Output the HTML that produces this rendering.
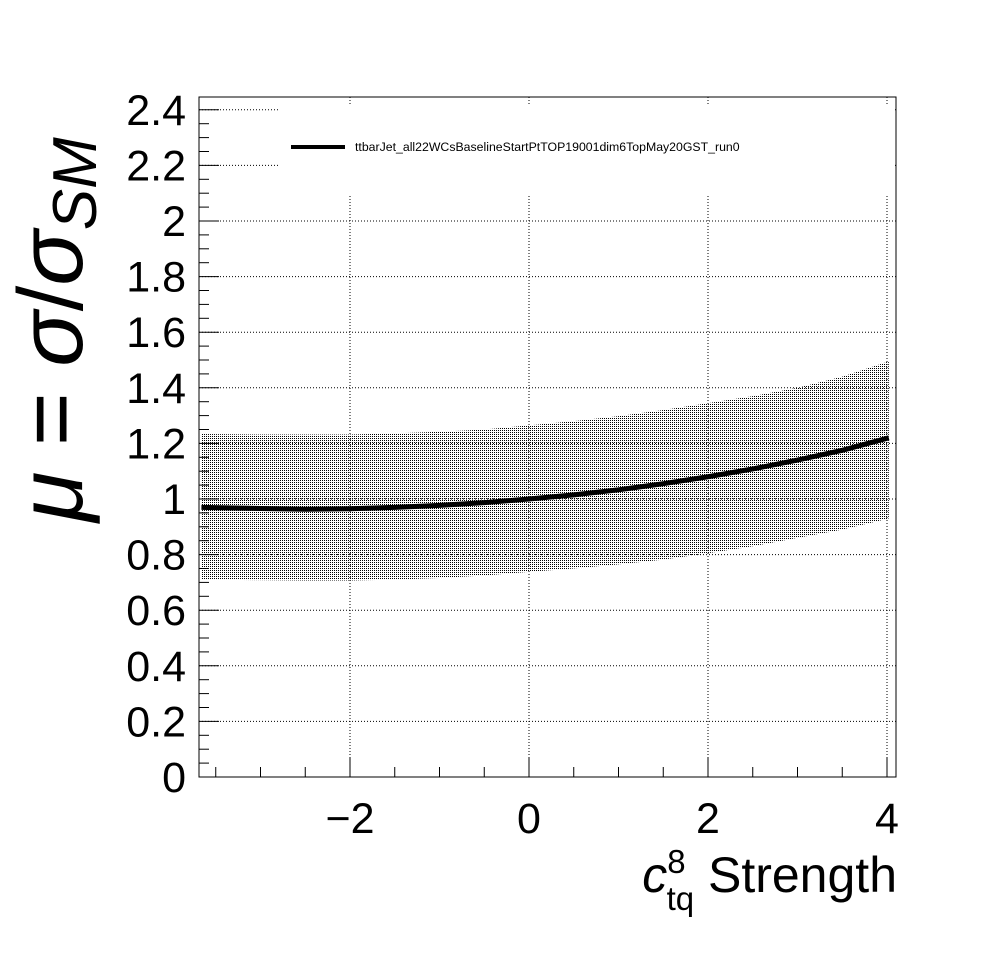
<!DOCTYPE html>
<html><head><meta charset="utf-8"><style>
html,body{margin:0;padding:0;background:#fff;}
svg text{font-family:"Liberation Sans",sans-serif;}
</style></head><body>
<svg id="chart" width="996" height="972" xmlns="http://www.w3.org/2000/svg">
<defs><pattern id="dots" width="2" height="2" patternUnits="userSpaceOnUse"><rect width="1" height="1" fill="#000"/></pattern></defs>
<rect width="996" height="972" fill="#fff"/>
<g id="grid"></g>
<g id="band"></g>
<g id="series"></g>
<g id="legend">
<rect x="278" y="104" width="617" height="92" fill="#fff"/>
<line x1="291" y1="147" x2="345" y2="147" stroke="#000" stroke-width="4"/>
<text x="355" y="151" font-size="12.3">ttbarJet_all22WCsBaselineStartPtTOP19001dim6TopMay20GST_run0</text>
</g>
<g id="axes"></g>
<text transform="translate(82,522) rotate(-90)" font-size="92"><tspan font-style="italic">μ</tspan> = <tspan font-style="italic">σ</tspan>/<tspan font-style="italic">σ</tspan><tspan font-style="italic" font-size="62" dy="14">SM</tspan></text>
<text x="897" y="892" font-size="50" text-anchor="end"><tspan font-style="italic">c</tspan><tspan font-size="33" dy="-19">8</tspan><tspan font-size="33" dx="-19" dy="37">tq</tspan><tspan dy="-18"> Strength</tspan></text>
</svg>
<script>
const xTicks=[-2,0,2,4];
const yTicks=[0,0.2,0.4,0.6,0.8,1,1.2,1.4,1.6,1.8,2,2.2,2.4];
const yTickLabels=["0","0.2","0.4","0.6","0.8","1","1.2","1.4","1.6","1.8","2","2.2","2.4"];
const xTickLabels=["\u22122","0","2","4"];
const cx=[-3.66,-3,-2.5,-2,-1.5,-1,-0.5,0,0.5,1,1.5,2,2.5,3,3.5,4.02];
const central=[0.97,0.966,0.963,0.965,0.97,0.977,0.987,1.0,1.015,1.033,1.055,1.08,1.108,1.14,1.175,1.22];
const upper=[1.234,1.232,1.232,1.232,1.236,1.242,1.25,1.265,1.28,1.298,1.32,1.345,1.37,1.4,1.44,1.495];
const lower=[0.71,0.708,0.707,0.707,0.71,0.716,0.725,0.738,0.75,0.765,0.782,0.805,0.83,0.86,0.89,0.93];
const L=199,R=896,T=97,B=777;
const X=v=>529+v*89.5, Y=v=>777-v*278;
const NS="http://www.w3.org/2000/svg";
function mk(p,tag,a){const e=document.createElementNS(NS,tag);for(const k in a)e.setAttribute(k,a[k]);p.appendChild(e);return e;}
const grid=document.getElementById('grid');
xTicks.forEach(v=>{const l=mk(grid,'line',{x1:X(v),x2:X(v),y1:T,y2:B,stroke:'#000','stroke-width':1,'stroke-dasharray':'1,2'});

});
yTicks.forEach(v=>{if(v<=0)return;const l=mk(grid,'line',{x1:L,x2:R,y1:Y(v),y2:Y(v),stroke:'#000','stroke-width':1,'stroke-dasharray':'1,2'});

});
const band=document.getElementById('band');
let d='M'+cx.map((v,i)=>X(v)+','+Y(upper[i])).join('L');
for(let i=cx.length-1;i>=0;i--)d+='L'+X(cx[i])+','+Y(lower[i]);
const bp=mk(band,'path',{d:d+'Z',fill:'url(#dots)'});


const ser=document.getElementById('series');
const ln=mk(ser,'polyline',{points:cx.map((v,i)=>X(v)+','+Y(central[i])).join(' '),fill:'none',stroke:'#000','stroke-width':5});


const ax=document.getElementById('axes');
const fr=mk(ax,'rect',{x:L,y:T,width:R-L,height:B-T,fill:'none',stroke:'#000','stroke-width':1});


for(let i=0;i<=49;i++){const v=i*0.05;const yy=Y(v);if(yy<T)break;const len=(i%4==0)?20:10;
mk(ax,'line',{x1:L,x2:L+len,y1:yy,y2:yy,stroke:'#000'});}
for(let v=-3.5;v<=4.1;v+=0.5){const xx=X(v);const len=(Math.abs(v%2)<1e-9)?20:10;
mk(ax,'line',{x1:xx,x2:xx,y1:B,y2:B-len,stroke:'#000'});}
yTicks.forEach((v,i)=>{const t=mk(ax,'text',{x:186,y:Y(v)+15,'font-size':43,'text-anchor':'end'});t.textContent=yTickLabels[i];

});
xTicks.forEach((v,i)=>{const t=mk(ax,'text',{x:X(v),y:833,'font-size':43,'text-anchor':'middle'});t.textContent=xTickLabels[i];

});
</script>
</body></html>
